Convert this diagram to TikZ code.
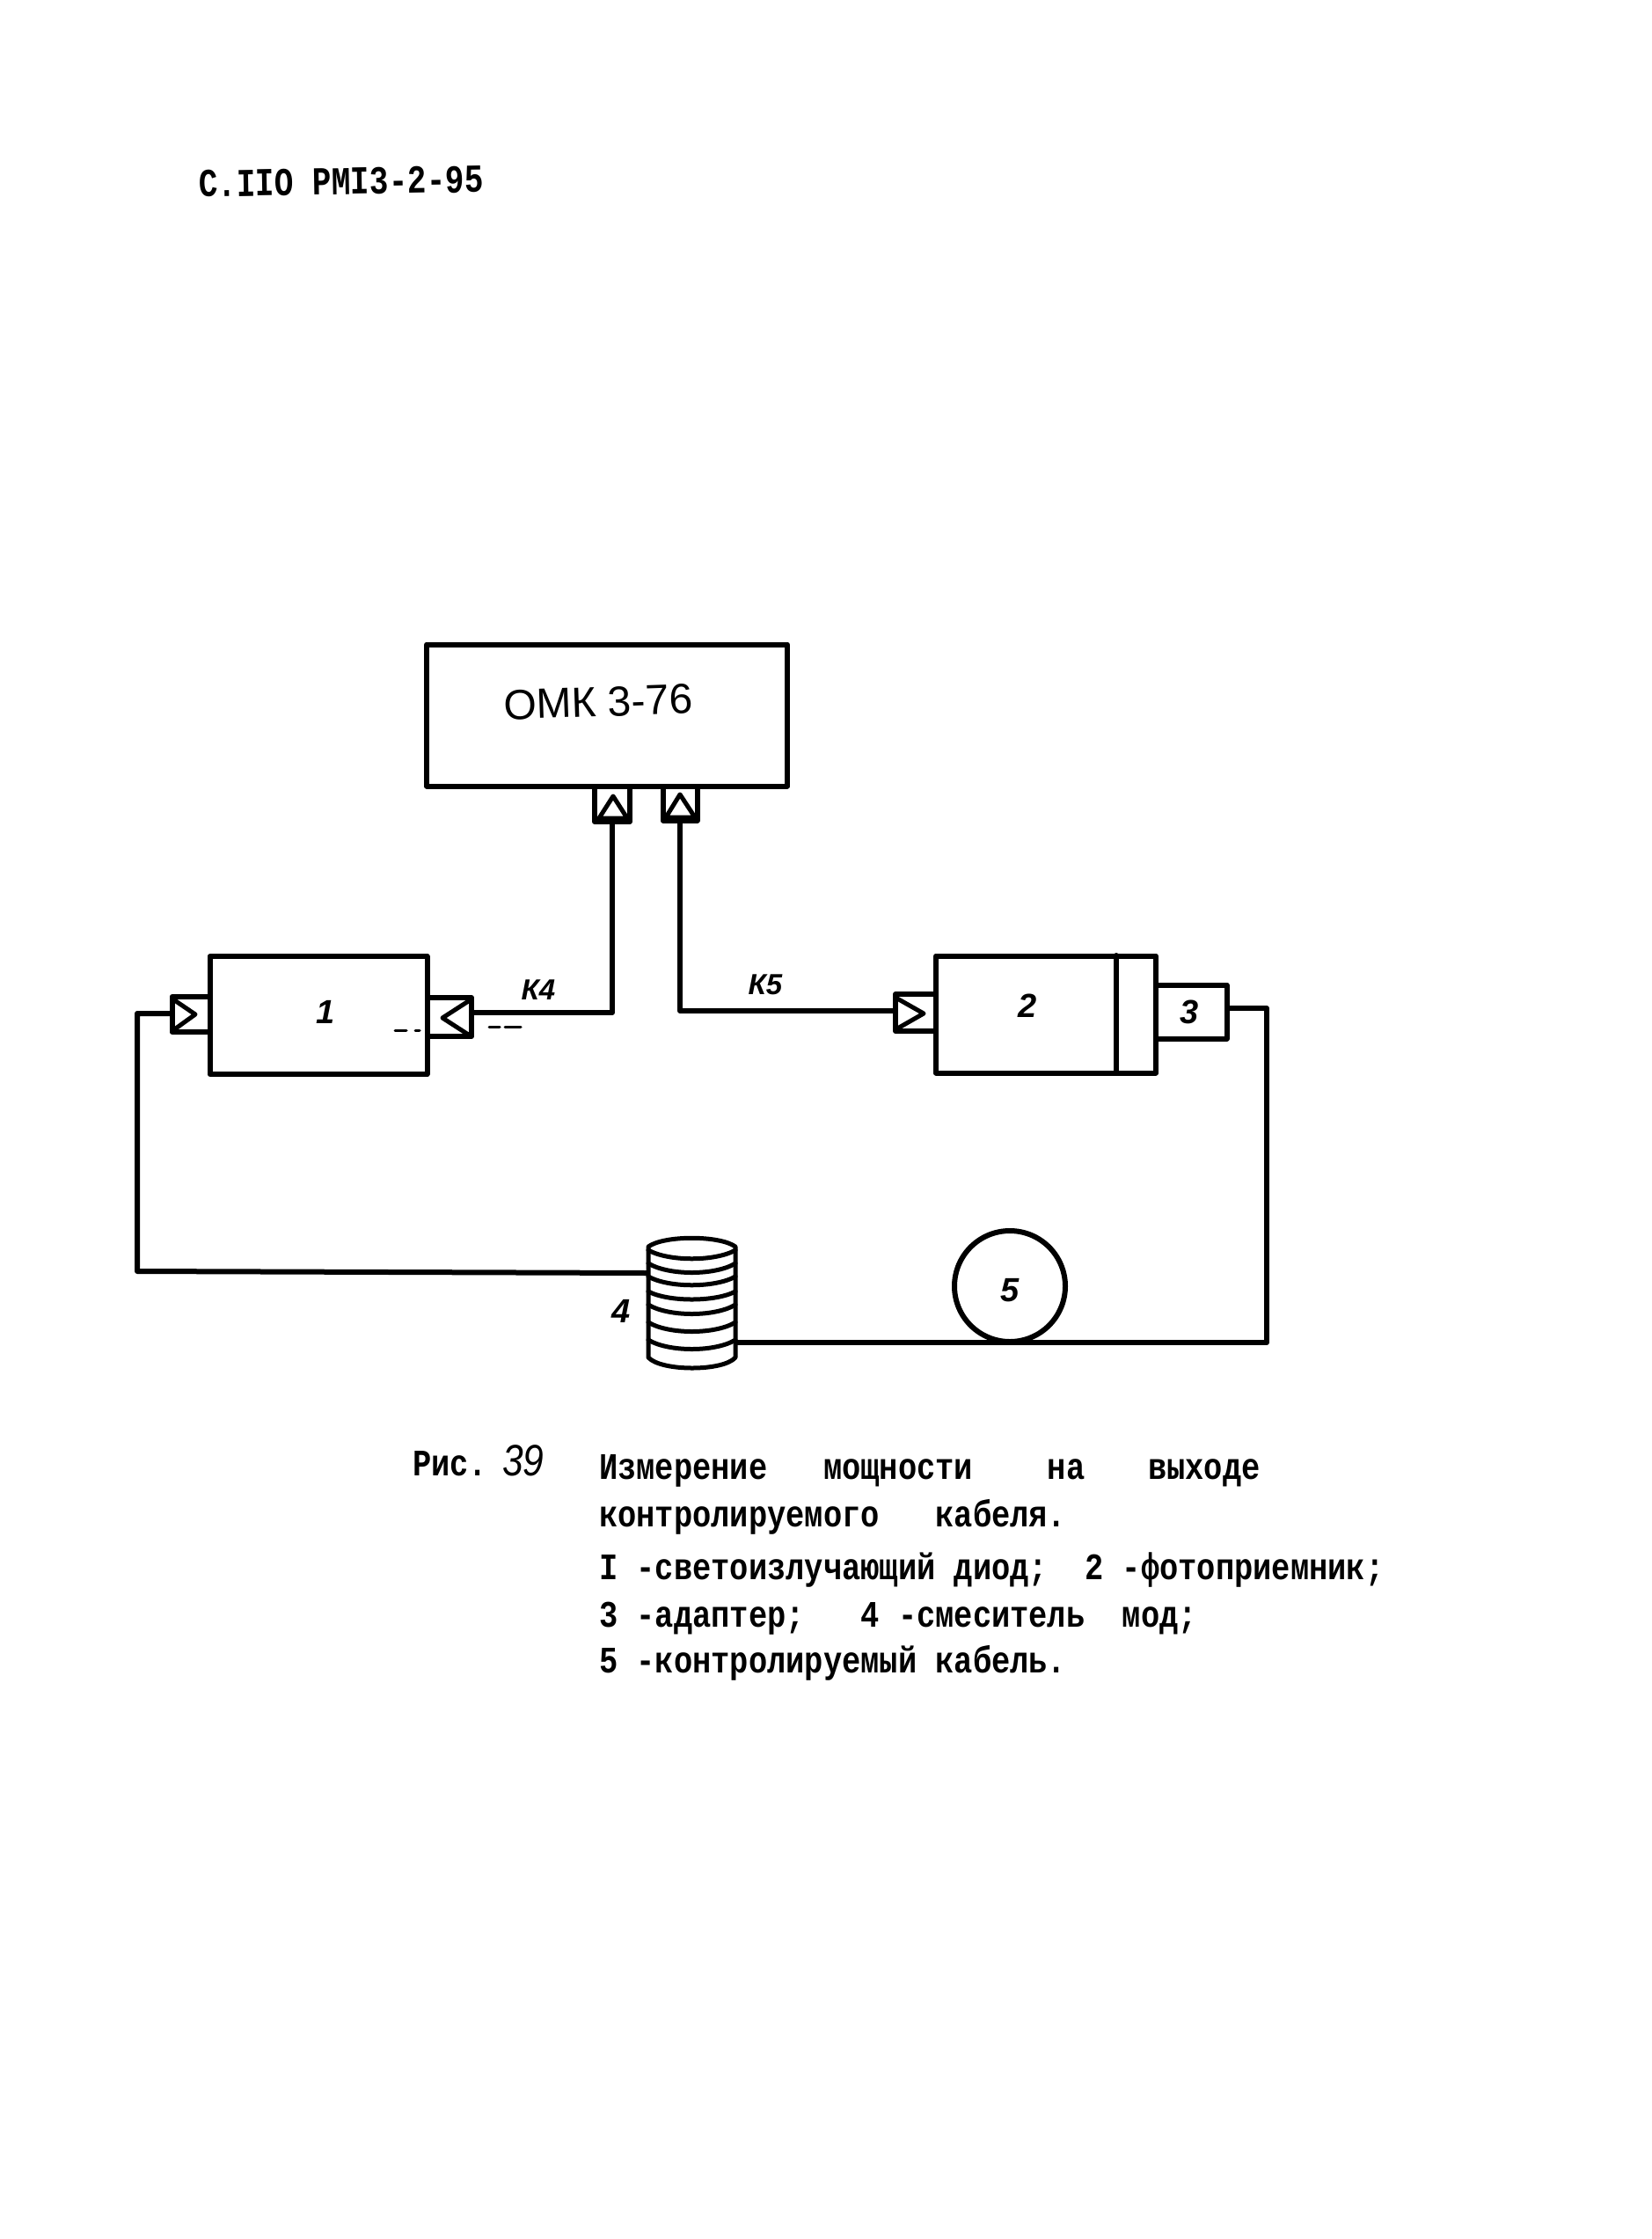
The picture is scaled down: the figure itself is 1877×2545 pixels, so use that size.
\documentclass[tikz,border=0pt]{standalone}
\usepackage{fontspec}
\newfontfamily\typefont[Ligatures=NoCommon]{Liberation Mono}
\newfontfamily\handfont{Liberation Sans}
\newcommand{\tallbox}[1]{\scalebox{1}[1.2]{#1}}
\begin{document}
\begin{tikzpicture}[x=1pt,y=-1pt,line join=round,line cap=round,
  ln/.style={line width=6pt},
  boxnode/.style={draw,ln,rectangle,inner sep=0pt,outer sep=0pt,fill=white},
  typed/.style={anchor=base west,inner sep=0pt,font=\typefont\bfseries\fontsize{35.4}{35.4}\selectfont},
  handb/.style={inner sep=0pt,font=\handfont\bfseries\itshape\fontsize{38}{38}\selectfont},
  hands/.style={inner sep=0pt,font=\handfont\bfseries\itshape\fontsize{33}{33}\selectfont},
  tri/.style={line width=5pt},
  coil/.style={line width=5pt}]
\useasboundingbox[fill=white] (0,0) rectangle (1877,2545);
% header
\node[typed,rotate=1,font=\typefont\bfseries\fontsize{36}{36}\selectfont] (head) at (226,224) {\scalebox{1}[1.25]{C.IIO PMI3-2-95}};
% instrument
\node[boxnode,minimum width=410pt,minimum height=161pt] (omk) at (690,813) {};
\node[inner sep=0pt,rotate=2,font=\handfont\fontsize{48}{48}\selectfont] (omktext) at (680,798) {ОМК 3-76};
\node[boxnode,minimum width=40pt,minimum height=40pt] (pa) at (696,914) {};
\node[boxnode,minimum width=39pt,minimum height=39pt] (pb) at (773,913) {};
\draw[tri] (681,930) -- (697,905) -- (713,930) -- cycle;
\draw[tri] (757,929) -- (773,903) -- (790,929) -- cycle;
% block 1
\node[boxnode,minimum width=43pt,minimum height=40pt] (pl) at (217,1153) {};
\node[boxnode,minimum width=50pt,minimum height=44pt] (pr) at (511,1156) {};
\node[boxnode,minimum width=247pt,minimum height=134pt] (b1) at (362,1154) {};
\node[handb] (t1) at (370,1150) {1};
\draw[tri] (197,1136) -- (222,1153) -- (197,1171);
\draw[tri] (534,1137) -- (503,1157) -- (534,1177);
\draw[line width=3pt] (449,1171) -- (462,1171) (472,1171) -- (477,1171);
\draw[line width=3pt] (556,1167) -- (568,1167) (574,1167) -- (592,1167);
% block 2 and 3
\node[boxnode,minimum width=46pt,minimum height=42pt] (p2) at (1041,1151) {};
\node[boxnode,minimum width=81pt,minimum height=61pt] (b3) at (1354,1150) {};
\node[boxnode,minimum width=250pt,minimum height=133pt] (b2) at (1189,1153) {};
\draw[ln] (1269,1086) -- (1269,1219);
\draw[tri] (1020,1135) -- (1050,1152) -- (1022,1168);
\node[handb] (t2) at (1168,1143) {2};
\node[handb] (t3) at (1352,1150) {3};
% connectors
\coordinate (prend) at (536,1151);
\coordinate (p2end) at (1017,1149);
\coordinate (plend) at (195,1152);
\coordinate (cyl4l) at (737,1447);
\coordinate (cyl4r) at (836,1526);
\coordinate (b3end) at (1395,1146);
\coordinate (corner) at (1440,1526);
\draw[ln] (pa.south) |- (prend);
\draw[ln] (pb.south) |- (p2end);
\draw[ln] (plend) -| (156,1445) -- (cyl4l);
\draw[ln] (b3end) -| (corner) -- (cyl4r);
\node[hands] (k4) at (612,1125) {К4};
\node[hands] (k5) at (870,1119) {К5};
% coiled mode mixer
\draw[coil,fill=white] (737,1417) .. controls (755,1404) and (818,1404) .. (836,1417)
  -- (836,1543) .. controls (822,1559) and (752,1559) .. (737,1543) -- cycle;
\foreach \s/\c in {1421/1431,1436/1447,1451/1461,1468/1477,1483/1494,1503/1514,1523/1534}{
  \draw[coil] (737,\s) .. controls (760,\c+3) and (813,\c+3) .. (836,\s);
}
\node[handb] (t4) at (706,1490) {4};
% cable under test
\node[draw,ln,circle,minimum size=126pt,inner sep=0pt,outer sep=0pt] (c5) at (1148,1462) {};
\node[handb] (t5) at (1148,1467) {5};
% caption
\node[typed] (ris) at (469,1677) {\tallbox{Рис.}};
\node[inner sep=0pt,anchor=base west,font=\handfont\itshape\fontsize{50}{50}\selectfont] (ris39) at (571,1677) {\scalebox{0.85}[1]{39}};
\node[typed] (l1) at (681,1681) {\tallbox{Измерение~~~мощности~~~~на~~~\hspace{8pt}выходе}};
\node[typed] (l2) at (681,1735) {\tallbox{контролируемого~~~кабеля.}};
\node[typed] (l3) at (681,1795) {\tallbox{I -светоизлучающий диод;~~2 -фотоприемник;}};
\node[typed] (l4) at (681,1849) {\tallbox{3 -адаптер;~~~4 -смеситель~~мод;}};
\node[typed] (l5) at (681,1901) {\tallbox{5 -контролируемый кабель.}};
\end{tikzpicture}
\end{document}
